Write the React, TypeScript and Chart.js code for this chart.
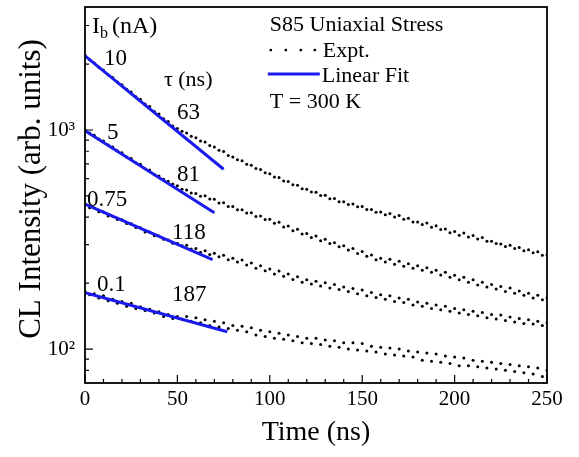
import React, { useEffect, useRef } from 'react';
import { Chart, registerables } from 'chart.js';

Chart.register(...registerables);

const SERIF = "'Liberation Serif', 'Times New Roman', serif";

// sample times (ns)
const TIMES = [
  0, 2.5, 5, 7.5, 10, 12.5, 15, 17.5, 20, 22.5,
  25, 27.5, 30, 32.5, 35, 37.5, 40, 42.5, 45, 47.5,
  50, 52.5, 55, 57.5, 60, 62.5, 65, 67.5, 70, 72.5,
  75, 77.5, 80, 82.5, 85, 87.5, 90, 92.5, 95, 97.5,
  100, 102.5, 105, 107.5, 110, 112.5, 115, 117.5, 120, 122.5,
  125, 127.5, 130, 132.5, 135, 137.5, 140, 142.5, 145, 147.5,
  150, 152.5, 155, 157.5, 160, 162.5, 165, 167.5, 170, 172.5,
  175, 177.5, 180, 182.5, 185, 187.5, 190, 192.5, 195, 197.5,
  200, 202.5, 205, 207.5, 210, 212.5, 215, 217.5, 220, 222.5,
  225, 227.5, 230, 232.5, 235, 237.5, 240, 242.5, 245, 247.5,
  250,
];

// experimental CL intensity (arb. units)
const EXPT_10NA = [
  2196, 2092, 2024, 1933, 1876, 1790, 1739, 1656, 1610, 1534,
  1490, 1419, 1380, 1313, 1279, 1216, 1184, 1126, 1095, 1042,
  1015, 986, 970, 937, 921, 892, 882, 849, 837, 808,
  797, 766, 754, 731, 723, 698, 691, 667, 661, 638,
  631, 611, 607, 585, 582, 562, 560, 540, 536, 521,
  520, 502, 504, 486, 487, 471, 470, 457, 459, 446,
  447, 434, 434, 421, 422, 410, 416, 401, 407, 391,
  396, 380, 380, 370, 376, 360, 366, 351, 353, 340,
  344, 331, 339, 325, 330, 318, 323, 311, 311, 303,
  302, 294, 298, 288, 291, 281, 284, 275, 278, 268,
  269,
];
const EXPT_5NA = [
  1004, 969, 947, 909, 890, 854, 837, 804, 788, 753,
  741, 709, 698, 666, 656, 626, 616, 596, 584, 567,
  556, 537, 532, 516, 513, 499, 501, 484, 483, 464,
  465, 447, 448, 432, 433, 418, 419, 403, 405, 390,
  391, 375, 379, 361, 365, 347, 352, 335, 337, 323,
  328, 312, 317, 303, 306, 293, 296, 283, 288, 273,
  279, 265, 269, 256, 260, 250, 257, 244, 252, 239,
  245, 234, 240, 229, 235, 224, 229, 218, 224, 213,
  217, 207, 213, 202, 207, 196, 202, 192, 197, 188,
  193, 183, 190, 180, 184, 176, 180, 171, 176, 168,
  171,
];
const EXPT_075NA = [
  460, 442, 440, 423, 422, 405, 404, 390, 389, 374,
  373, 359, 358, 342, 342, 329, 328, 317, 315, 304,
  304, 296, 298, 286, 288, 277, 281, 270, 274, 264,
  268, 256, 260, 250, 255, 242, 247, 234, 240, 228,
  232, 220, 227, 215, 220, 208, 214, 202, 207, 198,
  204, 194, 201, 190, 197, 187, 192, 183, 189, 179,
  186, 175, 181, 172, 177, 169, 175, 165, 171, 163,
  169, 159, 164, 157, 162, 153, 159, 151, 157, 149,
  153, 146, 151, 144, 149, 142, 147, 139, 144, 137,
  143, 135, 140, 133, 138, 131, 136, 130, 134, 128,
  132,
];
const EXPT_01NA = [
  183, 177, 179, 171, 175, 166, 169, 162, 165, 157,
  162, 153, 156, 150, 152, 146, 148, 141, 144, 138,
  141, 137, 141, 134, 139, 132, 136, 128, 134, 126,
  132, 124, 128, 122, 127, 120, 125, 116, 122, 114,
  120, 112, 118, 111, 116, 109, 114, 107, 112, 106,
  112, 105, 110, 103, 109, 102, 107, 100, 107, 99,
  106, 98, 103, 97, 102, 95, 101, 94, 100, 93,
  98, 92, 97, 89, 96, 88, 95, 87, 93, 86,
  92, 84, 91, 84, 89, 83, 88, 82, 87, 81,
  86, 80, 85, 79, 84, 78, 83, 77, 82, 75,
  80,
];

// linear fits (on log scale): start / end
const FIT_END_TIMES = [75, 70, 69, 77];
const FIT_START_VALUES = [2180, 993, 459, 181];
const FIT_END_VALUES = [662, 419, 256, 120];

const CURRENT_LABELS = ['10', '5', '0.75', '0.1'];
const TAU_LABELS = ['63', '81', '118', '187'];

// label anchors (data coordinates)
const CURRENT_LABEL_T = [10.3, 11.9, 1.1, 6.5];
const CURRENT_LABEL_V = [1980, 910, 449, 185];
const TAU_LABEL_T = [49.8, 49.8, 47.1, 47.1];
const TAU_LABEL_V = [1124, 585, 318, 166];

const X_MAJOR_TICKS = [0, 50, 100, 150, 200, 250];
const X_MINOR_TICKS = [10, 20, 30, 40, 60, 70, 80, 90, 110, 120, 130, 140, 160, 170, 180, 190, 210, 220, 230, 240];
const Y_MAJOR_TICKS = [100, 1000];
const Y_TICK_TEXT = ['10²', '10³'];
const Y_MINOR_TICKS = [80, 90, 200, 300, 400, 500, 600, 700, 800, 900, 2000, 3000];

const FIT_COLOR = '#1a1aee';

const decorPlugin = {
  id: 'decor',
  beforeDraw(chart: any) {
    const { ctx, width, height } = chart;
    ctx.save();
    ctx.fillStyle = '#fff';
    ctx.fillRect(0, 0, width, height);
    ctx.restore();
  },
  afterDatasetsDraw(chart: any) {
    const { ctx, chartArea: a } = chart;
    const xs = chart.scales.x;
    const ys = chart.scales.y;
    ctx.save();
    ctx.strokeStyle = '#000';
    ctx.lineWidth = 1.2;
    ctx.beginPath();
    X_MAJOR_TICKS.forEach((t) => {
      const px = xs.getPixelForValue(t);
      ctx.moveTo(px, a.bottom);
      ctx.lineTo(px, a.bottom - 8);
    });
    X_MINOR_TICKS.forEach((t) => {
      const px = xs.getPixelForValue(t);
      ctx.moveTo(px, a.bottom);
      ctx.lineTo(px, a.bottom - 4);
    });
    Y_MAJOR_TICKS.forEach((v) => {
      const py = ys.getPixelForValue(v);
      ctx.moveTo(a.left, py);
      ctx.lineTo(a.left + 8, py);
    });
    Y_MINOR_TICKS.forEach((v) => {
      const py = ys.getPixelForValue(v);
      ctx.moveTo(a.left, py);
      ctx.lineTo(a.left + 4, py);
    });
    ctx.stroke();

    ctx.lineWidth = 1.8;
    ctx.strokeRect(a.left, a.top, a.right - a.left, a.bottom - a.top);

    ctx.fillStyle = '#000';

    // y axis title
    ctx.save();
    ctx.translate(32, (a.top + a.bottom) / 2 - 6);
    ctx.rotate(-Math.PI / 2);
    ctx.textAlign = 'center';
    ctx.textBaseline = 'middle';
    ctx.font = `31px ${SERIF}`;
    ctx.fillText('CL Intensity (arb. units)', 0, 0);
    ctx.restore();

    ctx.textAlign = 'left';
    ctx.textBaseline = 'alphabetic';

    // I_b (nA)
    const ibx = xs.getPixelForValue(3.8);
    const iby = ys.getPixelForValue(2772);
    ctx.font = `24px ${SERIF}`;
    ctx.fillText('I', ibx, iby);
    ctx.font = `16px ${SERIF}`;
    ctx.fillText('b', ibx + 8, iby + 5);
    ctx.font = `24px ${SERIF}`;
    ctx.fillText('(nA)', ibx + 20, iby);

    ctx.font = `22px ${SERIF}`;
    ctx.fillText('τ (ns)', xs.getPixelForValue(42.7), ys.getPixelForValue(1590));

    ctx.font = `23px ${SERIF}`;
    CURRENT_LABELS.forEach((s, i) => {
      ctx.fillText(s, xs.getPixelForValue(CURRENT_LABEL_T[i]), ys.getPixelForValue(CURRENT_LABEL_V[i]));
    });
    TAU_LABELS.forEach((s, i) => {
      ctx.fillText(s, xs.getPixelForValue(TAU_LABEL_T[i]), ys.getPixelForValue(TAU_LABEL_V[i]));
    });

    // legend block
    const lx = xs.getPixelForValue(100);
    const ly = ys.getPixelForValue(2830);
    ctx.font = `22px ${SERIF}`;
    ctx.fillText('S85 Uniaxial Stress', lx, ly);
    [0, 15, 30, 44].forEach((dx) => {
      ctx.beginPath();
      ctx.arc(lx + 1 + dx, ly + 19, 1.4, 0, Math.PI * 2);
      ctx.fill();
    });
    ctx.fillText('Expt.', lx + 53, ly + 26);
    ctx.strokeStyle = FIT_COLOR;
    ctx.lineWidth = 3;
    ctx.beginPath();
    ctx.moveTo(lx - 2, ly + 43);
    ctx.lineTo(lx + 50, ly + 43);
    ctx.stroke();
    ctx.fillText('Linear Fit', lx + 52, ly + 51);
    ctx.fillText('T = 300 K', lx, ly + 77);
    ctx.restore();
  },
};

export default function App() {
  const canvasRef = useRef<HTMLCanvasElement | null>(null);

  useEffect(() => {
    const canvas = canvasRef.current;
    if (!canvas) return;
    const series = [EXPT_10NA, EXPT_5NA, EXPT_075NA, EXPT_01NA];
    const fitSets = FIT_START_VALUES.map((v0, i) => ({
      label: `fit ${CURRENT_LABELS[i]}`,
      data: [
        { x: 0, y: v0 },
        { x: FIT_END_TIMES[i], y: FIT_END_VALUES[i] },
      ],
      showLine: true,
      borderColor: FIT_COLOR,
      borderWidth: 3,
      pointRadius: 0,
      order: 0,
    }));
    const exptSets = series.map((vals, i) => ({
      label: `expt ${CURRENT_LABELS[i]}`,
      data: vals.map((v, j) => ({ x: TIMES[j], y: v })),
      showLine: false,
      pointRadius: 1.5,
      pointBorderWidth: 0,
      pointBackgroundColor: '#000',
      backgroundColor: '#000',
      borderColor: '#000',
      order: 1,
    }));

    const chart = new Chart(canvas, {
      type: 'scatter',
      data: { datasets: [...fitSets, ...exptSets] as any },
      options: {
        responsive: false,
        animation: false,
        devicePixelRatio: 1,
        layout: { autoPadding: false, padding: { top: 7, right: 32, bottom: 0, left: 0 } },
        plugins: { legend: { display: false }, tooltip: { enabled: false } },
        scales: {
          x: {
            type: 'linear',
            min: 0,
            max: 250,
            border: { display: false },
            grid: { display: false, drawTicks: false },
            afterBuildTicks: (s: any) => {
              s.ticks = X_MAJOR_TICKS.map((v) => ({ value: v }));
            },
            ticks: {
              padding: 4,
              color: '#000',
              maxRotation: 0,
              autoSkip: false,
              font: { family: SERIF, size: 21 },
            },
            title: {
              display: true,
              text: 'Time (ns)',
              color: '#000',
              font: { family: SERIF, size: 28 },
              padding: { top: 0, bottom: 8 },
            },
            afterFit: (s: any) => {
              s.height = 74;
              s.paddingLeft = 0;
              s.paddingRight = 0;
            },
          },
          y: {
            type: 'logarithmic',
            min: 70,
            max: 3644,
            border: { display: false },
            grid: { display: false, drawTicks: false },
            afterBuildTicks: (s: any) => {
              s.ticks = Y_MAJOR_TICKS.map((v) => ({ value: v }));
            },
            ticks: {
              padding: 10,
              color: '#000',
              autoSkip: false,
              font: { family: SERIF, size: 21 },
              callback: (v: any) => {
                const i = Y_MAJOR_TICKS.indexOf(Number(v));
                return i >= 0 ? Y_TICK_TEXT[i] : '';
              },
            },
            title: { display: false },
            afterFit: (s: any) => {
              s.width = 85;
              s.paddingTop = 0;
              s.paddingBottom = 0;
            },
          },
        },
      } as any,
      plugins: [decorPlugin],
    });
    return () => chart.destroy();
  }, []);

  return (
    <div style={{ position: 'fixed', left: 0, top: 0, width: 579, height: 457, background: '#fff' }}>
      <canvas ref={canvasRef} width={579} height={457} style={{ display: 'block', width: 579, height: 457 }} />
    </div>
  );
}
